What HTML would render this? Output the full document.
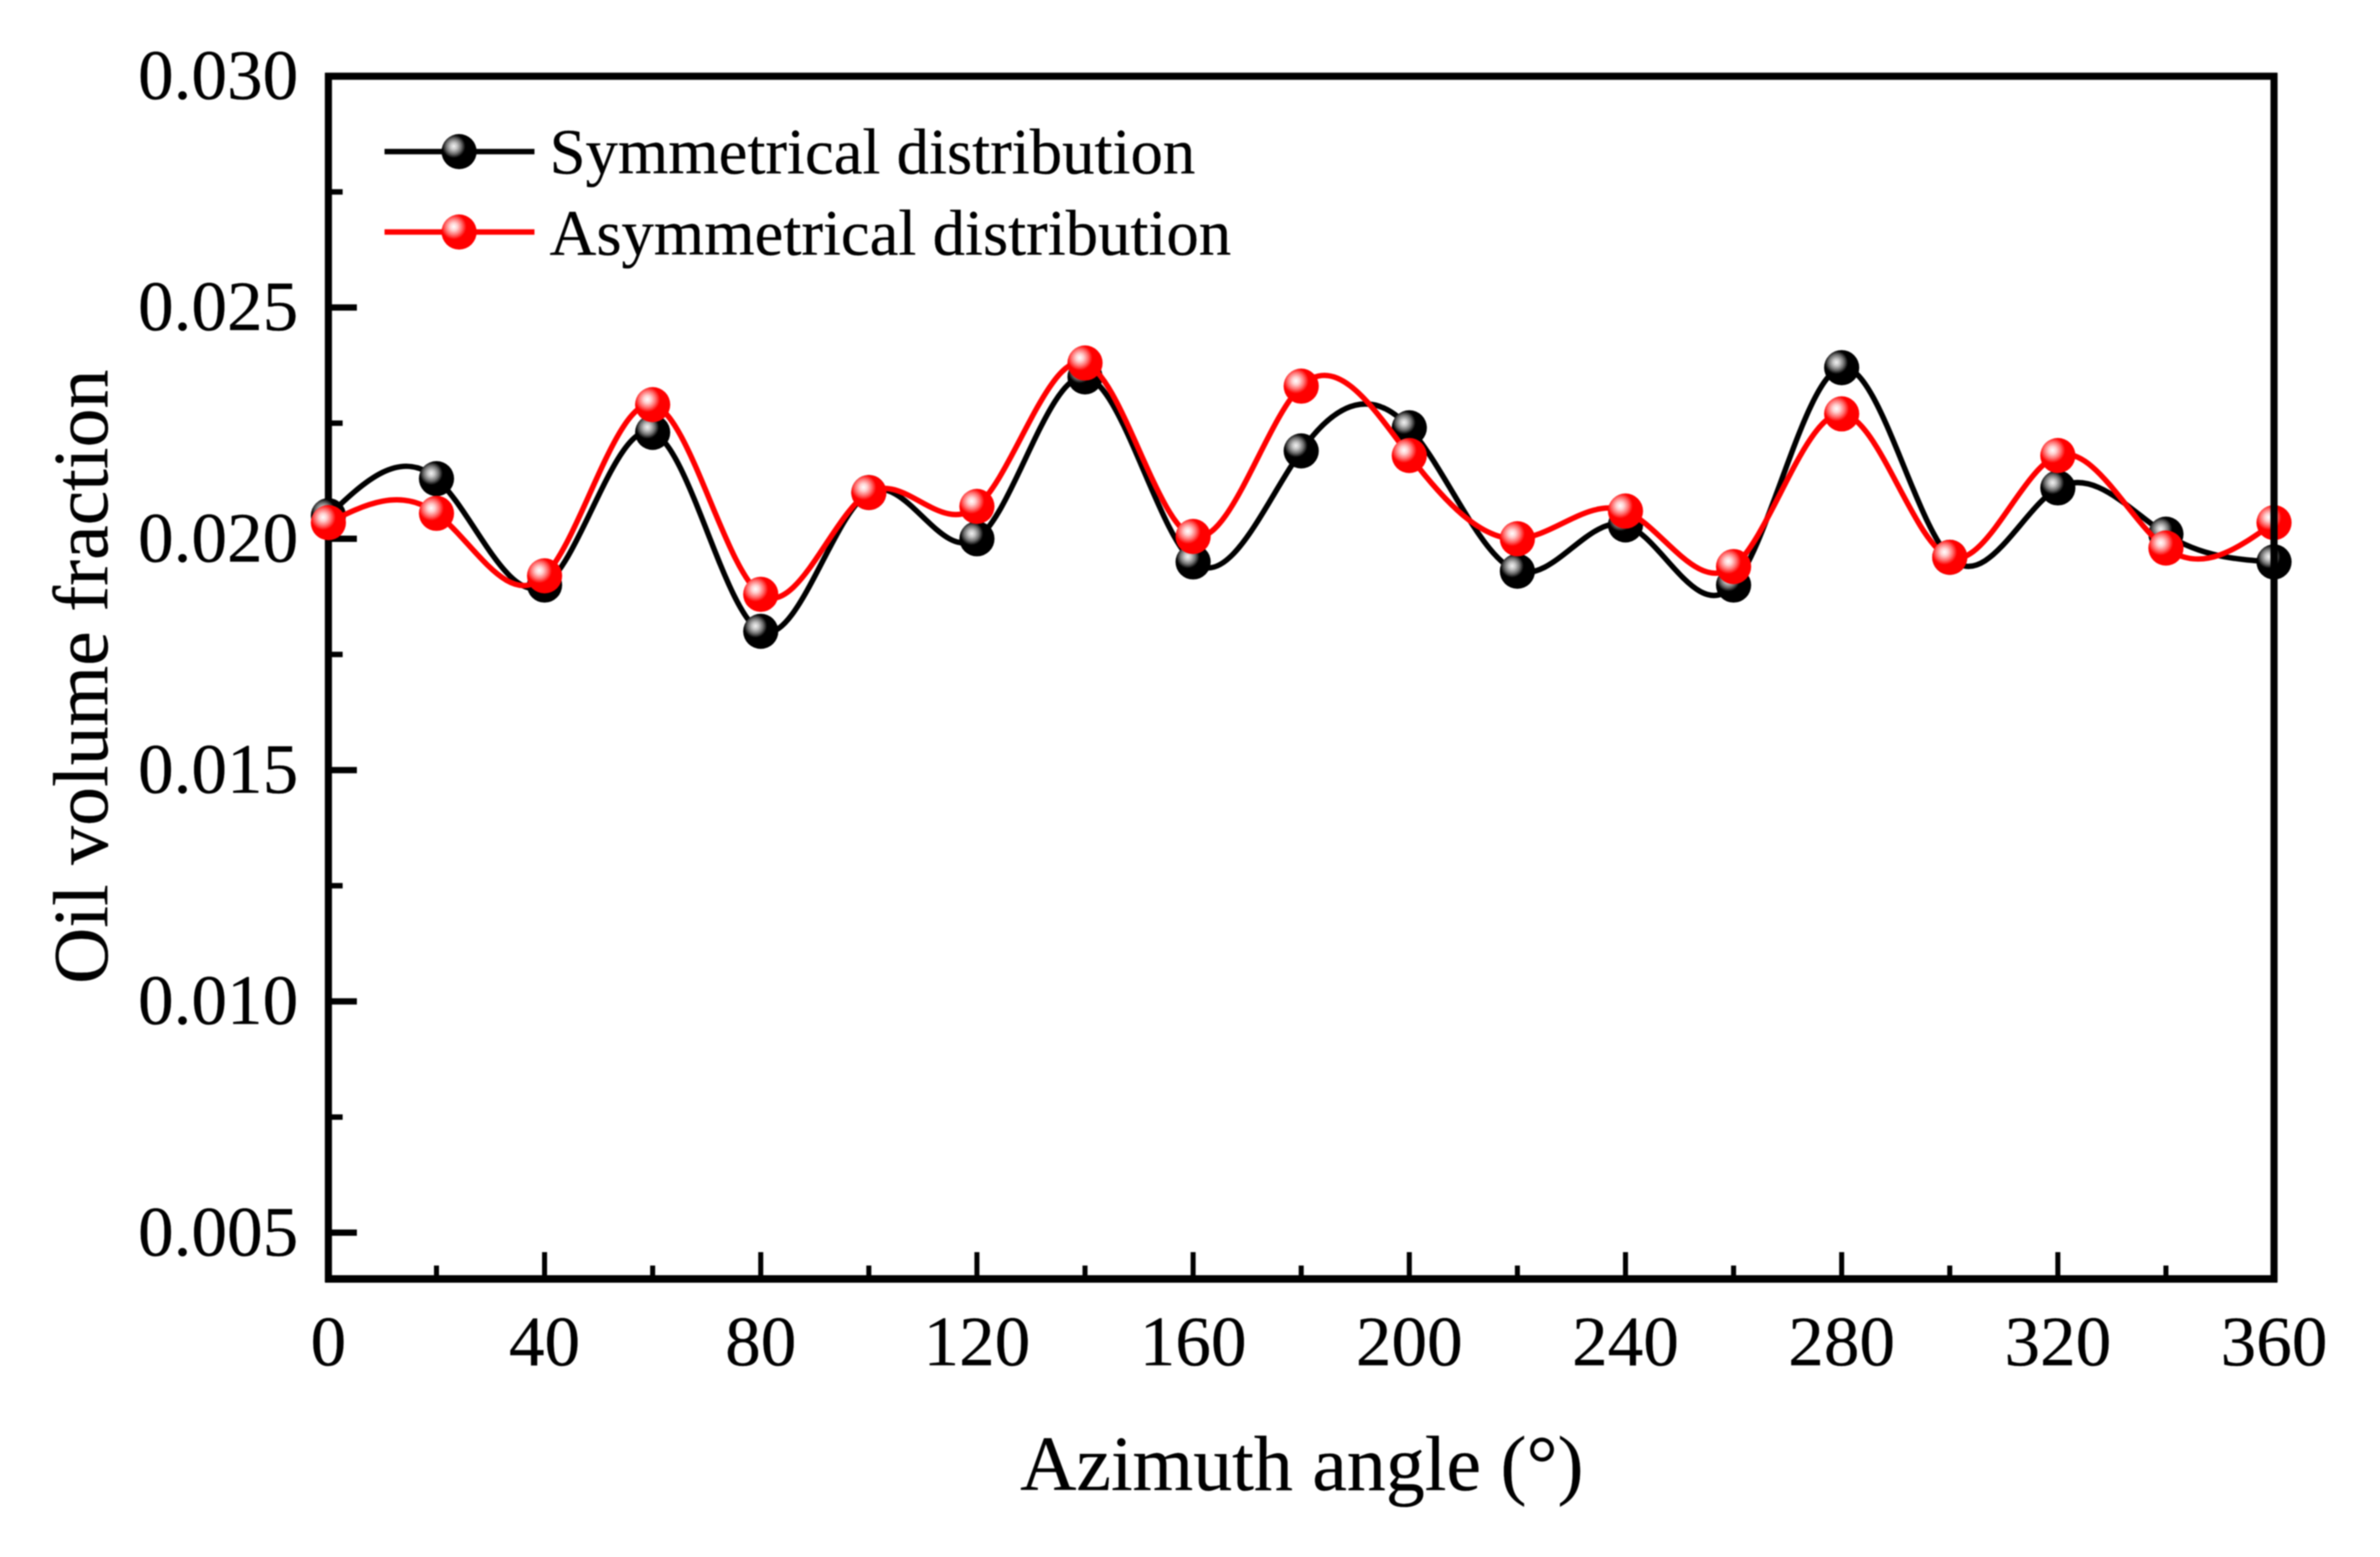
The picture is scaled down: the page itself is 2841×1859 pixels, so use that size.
<!DOCTYPE html>
<html lang="en">
<head>
<meta charset="utf-8">
<title>Oil volume fraction vs azimuth angle</title>
<style>
html,body{margin:0;padding:0;background:#fff;}
svg{display:block;filter:blur(0.7px);}
text{font-family:"Liberation Serif","Times New Roman",serif;fill:#000;stroke:#000;stroke-width:0.3px;}
</style>
</head>
<body>
<svg id="chart" xmlns="http://www.w3.org/2000/svg" width="2841" height="1859" viewBox="0 0 2841 1859">
<defs>
<radialGradient id="ball-black" cx="0.35" cy="0.35" r="0.33">
<stop offset="0" stop-color="#f2f2f2"/>
<stop offset="0.3" stop-color="#c4c4c4"/>
<stop offset="0.65" stop-color="#707070"/>
<stop offset="1" stop-color="#000"/>
</radialGradient>
<radialGradient id="ball-red" cx="0.35" cy="0.35" r="0.36">
<stop offset="0" stop-color="#fff"/>
<stop offset="0.3" stop-color="#ffd0d0"/>
<stop offset="0.65" stop-color="#ff7070"/>
<stop offset="1" stop-color="#f00"/>
</radialGradient>
</defs>
<rect x="0" y="0" width="2841" height="1859" fill="#fff"/>
<g id="axes-under"></g>
<g id="series"></g>
<line x1="2714.5" y1="87" x2="2714.5" y2="1531" stroke="#000" stroke-width="8.5"/>
<g>
<g>
<line x1="459" y1="181" x2="638" y2="181" stroke="#000" stroke-width="6.5"/>
<circle cx="548" cy="181" r="21" fill="url(#ball-black)"/>
<text x="656" y="207" font-size="77.3">Symmetrical distribution</text>
</g>
<g>
<line x1="459" y1="277" x2="638" y2="277" stroke="#f00" stroke-width="6.5"/>
<circle cx="548" cy="277" r="21" fill="url(#ball-red)"/>
<text x="656" y="304" font-size="77.3">Asymmetrical distribution</text>
</g>
</g>
<text x="1554" y="1779" font-size="93" text-anchor="middle">Azimuth angle (°)</text>
<text transform="translate(128 808) rotate(-90)" font-size="93" text-anchor="middle">Oil volume fraction</text>
</svg>
<script>
const angles = [0,20,40,60,80,100,120,140,160,180,200,220,240,260,280,300,320,340,360];
const symmetrical = [0.0205,0.0213,0.0190,0.0223,0.0180,0.0210,0.0200,0.0235,0.0195,0.0219,0.0224,0.0193,0.0203,0.0190,0.0237,0.0196,0.0211,0.0201,0.0195];
const asymmetrical = [0.02035,0.02055,0.0192,0.0229,0.0188,0.0210,0.0207,0.0238,0.02005,0.0233,0.0218,0.0200,0.0206,0.0194,0.0227,0.0196,0.0218,0.0198,0.02035];
const xMajorTicks = [0,40,80,120,160,200,240,280,320,360];
const xMinorTicks = [20,60,100,140,180,220,260,300,340];
const yMajorTicks = [0.005,0.010,0.015,0.020,0.025,0.030];
const yMinorTicks = [0.0075,0.0125,0.0175,0.0225,0.0275];

const NS = 'http://www.w3.org/2000/svg';
const plotLeft = 392, plotRight = 2714.5, plotTop = 91, plotBottom = 1527;
const xMin = 0, xMax = 360, yMin = 0.004, yMax = 0.030;
function xScale(v){ return plotLeft + (v - xMin) / (xMax - xMin) * (plotRight - plotLeft); }
function yScale(v){ return plotBottom - (v - yMin) / (yMax - yMin) * (plotBottom - plotTop); }
function svgEl(tag, attrs, parent){
  const el = document.createElementNS(NS, tag);
  for (const k in attrs) el.setAttribute(k, attrs[k]);
  parent.appendChild(el);
  return el;
}

/* natural cubic spline through the points, returned as an SVG path */
function splinePath(xs, ys){
  const n = xs.length, h = [], m = new Array(n).fill(0);
  for (let i = 0; i < n - 1; i++) h.push(xs[i + 1] - xs[i]);
  const a = new Array(n).fill(0), b = new Array(n).fill(1), c = new Array(n).fill(0), d = new Array(n).fill(0);
  for (let i = 1; i < n - 1; i++){
    a[i] = h[i - 1];
    b[i] = 2 * (h[i - 1] + h[i]);
    c[i] = h[i];
    d[i] = 6 * ((ys[i + 1] - ys[i]) / h[i] - (ys[i] - ys[i - 1]) / h[i - 1]);
  }
  for (let i = 1; i < n; i++){
    const w = a[i] / b[i - 1];
    b[i] -= w * c[i - 1];
    d[i] -= w * d[i - 1];
  }
  m[n - 1] = d[n - 1] / b[n - 1];
  for (let i = n - 2; i >= 0; i--) m[i] = (d[i] - c[i] * m[i + 1]) / b[i];
  let path = 'M' + xs[0].toFixed(2) + ' ' + ys[0].toFixed(2);
  for (let i = 0; i < n - 1; i++){
    const s0 = (ys[i + 1] - ys[i]) / h[i] - h[i] * (2 * m[i] + m[i + 1]) / 6;
    const s1 = (ys[i + 1] - ys[i]) / h[i] + h[i] * (m[i] + 2 * m[i + 1]) / 6;
    const c1x = xs[i] + h[i] / 3, c1y = ys[i] + s0 * h[i] / 3;
    const c2x = xs[i + 1] - h[i] / 3, c2y = ys[i + 1] - s1 * h[i] / 3;
    path += 'C' + c1x.toFixed(2) + ' ' + c1y.toFixed(2) + ' ' + c2x.toFixed(2) + ' ' + c2y.toFixed(2) + ' ' + xs[i + 1].toFixed(2) + ' ' + ys[i + 1].toFixed(2);
  }
  return path;
}

const axes = document.getElementById('axes-under');

const topAxis = svgEl('line', {x1: plotLeft - 4, y1: plotTop, x2: plotRight + 4, y2: plotTop, stroke: '#000', 'stroke-width': 8.5}, axes);


const leftAxis = svgEl('line', {x1: plotLeft, y1: plotTop - 4, x2: plotLeft, y2: plotBottom + 4, stroke: '#000', 'stroke-width': 8.5}, axes);


const bottomAxis = svgEl('line', {x1: plotLeft - 4, y1: plotBottom, x2: plotRight + 4, y2: plotBottom, stroke: '#000', 'stroke-width': 9}, axes);



xMajorTicks.forEach(function(v){
  const t = svgEl('line', {x1: xScale(v), y1: plotBottom, x2: xScale(v), y2: plotBottom - 32, stroke: '#000', 'stroke-width': 6}, axes);
  
  
  const l = svgEl('text', {x: xScale(v), y: 1630, 'font-size': 85, 'text-anchor': 'middle'}, axes);
  
  
  l.textContent = String(v);
});
xMinorTicks.forEach(function(v){
  const t = svgEl('line', {x1: xScale(v), y1: plotBottom, x2: xScale(v), y2: plotBottom - 16, stroke: '#000', 'stroke-width': 6}, axes);
  
  
});
yMajorTicks.forEach(function(v){
  const t = svgEl('line', {x1: plotLeft, y1: yScale(v), x2: plotLeft + 34, y2: yScale(v), stroke: '#000', 'stroke-width': 7.5}, axes);
  
  
  const l = svgEl('text', {x: 356, y: yScale(v) + 27, 'font-size': 85, 'text-anchor': 'end'}, axes);
  
  
  l.textContent = v.toFixed(3);
});
yMinorTicks.forEach(function(v){
  const t = svgEl('line', {x1: plotLeft, y1: yScale(v), x2: plotLeft + 17, y2: yScale(v), stroke: '#000', 'stroke-width': 6.5}, axes);
  
  
});

const seriesLayer = document.getElementById('series');
function drawSeries(values, color, gradient, key){
  const xs = angles.map(xScale), ys = values.map(yScale);
  const line = svgEl('path', {d: splinePath(xs, ys), fill: 'none', stroke: color, 'stroke-width': 6.5}, seriesLayer);
  
  
  angles.forEach(function(a, i){
    const p = svgEl('circle', {cx: xScale(a), cy: yScale(values[i]), r: 21, fill: 'url(#' + gradient + ')'}, seriesLayer);
    
    
  });
}
drawSeries(symmetrical, '#000', 'ball-black', 'symmetrical');
drawSeries(asymmetrical, '#f00', 'ball-red', 'asymmetrical');
</script>
</body>
</html>
